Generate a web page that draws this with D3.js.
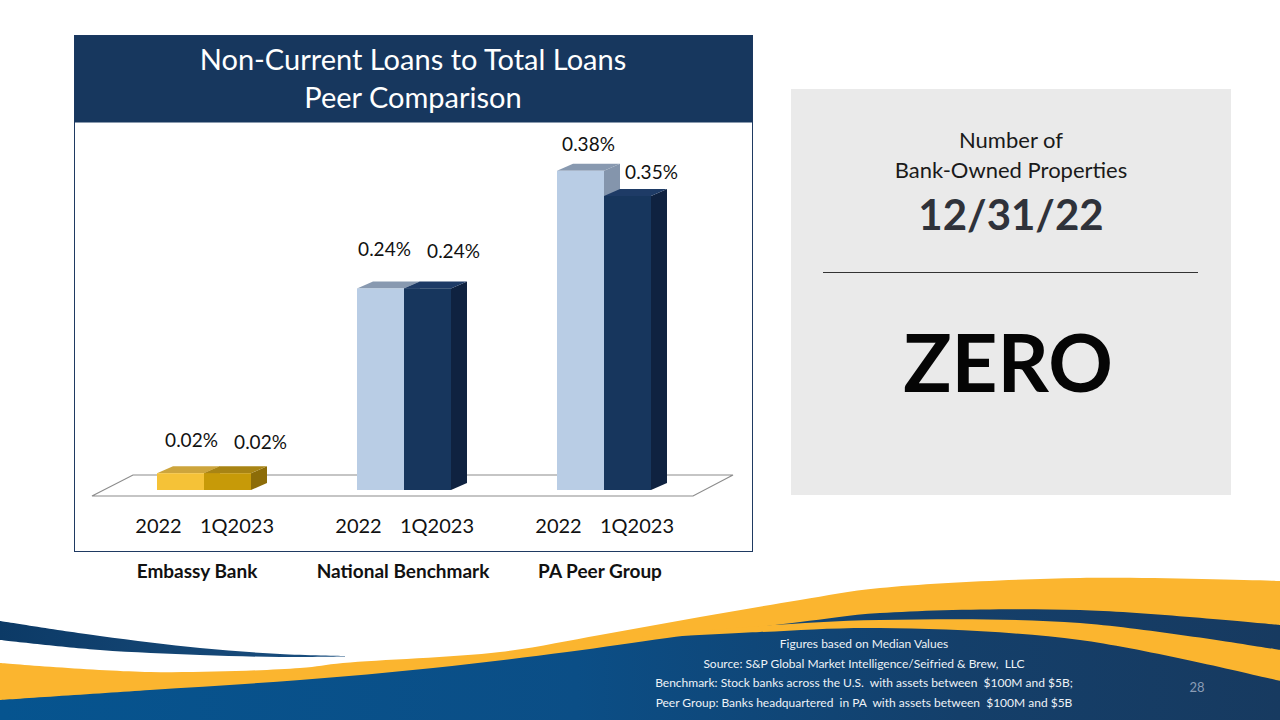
<!DOCTYPE html>
<html>
<head>
<meta charset="utf-8">
<script src="https://cdn.jsdelivr.net/npm/d3@7"></script>
<style>
html,body{margin:0;padding:0;background:#fff;}
svg{display:block;font-family:Lato, "Open Sans", sans-serif;}
</style>
</head>
<body>
<svg id="c" width="1280" height="720"></svg>
<script>
// ---- data ----
const categories = ["Embassy Bank", "National Benchmark", "PA Peer Group"];
const periods = ["2022", "1Q2023"];
const values2022 = [0.02, 0.24, 0.38];
const values1Q2023 = [0.02, 0.24, 0.35];
const titleLines = ["Non-Current Loans to Total Loans", "Peer Comparison"];
const panelLines = ["Number of", "Bank-Owned Properties"];
const panelDate = "12/31/22";
const panelValue = "ZERO";
const footerLines = [
  "Figures based on Median Values",
  "Source: S&P Global Market Intelligence/Seifried & Brew,  LLC",
  "Benchmark: Stock banks across the U.S.  with assets between  $100M and $5B;",
  "Peer Group: Banks headquartered  in PA  with assets between  $100M and $5B"
];
const pageNumber = "28";

const svg = d3.select("#c");

// ---- background waves (decoration) ----
const defs = svg.append("defs");
const g1 = defs.append("linearGradient").attr("id","navyGrad").attr("x1","0").attr("x2","1").attr("y1","0").attr("y2","0");
g1.append("stop").attr("offset","0").attr("stop-color","#06548F");
g1.append("stop").attr("offset","0.45").attr("stop-color","#0B4E86");
g1.append("stop").attr("offset","0.75").attr("stop-color","#143F6A");
g1.append("stop").attr("offset","1").attr("stop-color","#173A60");
const g2 = defs.append("linearGradient").attr("id","swGrad").attr("x1","0").attr("x2","1");
g2.append("stop").attr("offset","0").attr("stop-color","#0C3A66");
g2.append("stop").attr("offset","1").attr("stop-color","#1A4F80");

const curve = d3.line().curve(d3.curveCatmullRom.alpha(0.5));
// top and bottom both given left -> right
function band(top, bottom){
  return curve(top) + "L" + curve(bottom.slice().reverse()).slice(1) + "Z";
}
const yellowTop = [[0,663],[150,672],[300,668],[343,663],[500,652],[600,635],[700,617],[800,600],[880,588],[1080,578],[1280,581]];
svg.append("path").attr("d", band(yellowTop, [[0,720],[1280,720]])).attr("fill","#FBB52F");
const navyTop = [[0,700],[150,690],[300,680],[433,668],[567,652],[667,638],[733,630],[800,622],[880,613],[1080,610],[1280,625]];
svg.append("path").attr("d", band(navyTop, [[0,720],[1280,720]])).attr("fill","url(#navyGrad)");
const y2Top = [[640,637],[760,626],[880,620],[1080,623],[1280,650]];
const y2Bot = [[640,638],[760,632],[880,628],[1080,640],[1280,681]];
svg.append("path").attr("d", band(y2Top, y2Bot)).attr("fill","#FBB52F");
const swTop = [[0,621],[100,636],[200,648],[280,654],[345,656]];
const swBot = [[0,640],[100,650],[200,655],[280,657],[345,656.5]];
svg.append("path").attr("d", band(swTop, swBot)).attr("fill","url(#swGrad)");

// footer text
svg.append("g").selectAll("text").data(footerLines).join("text")
  .attr("x", 864).attr("y", (d,i)=>648 + i*19.7)
  .attr("text-anchor","middle").attr("font-size", 12).attr("fill","#EEF2F7")
  .style("white-space","pre").text(d=>d);
svg.append("text").attr("x",1197).attr("y",692).attr("text-anchor","middle")
  .attr("font-size",13).attr("fill","#8A9DB6").text(pageNumber);

// ---- chart frame ----
const box = {x:74.5, y:35.5, w:678, h:516};
svg.append("rect").attr("x",box.x).attr("y",box.y).attr("width",box.w).attr("height",box.h)
  .attr("fill","#fff").attr("stroke","#1F3A62").attr("stroke-width",1);
svg.append("rect").attr("x",box.x).attr("y",box.y).attr("width",box.w).attr("height",87)
  .attr("fill","#17375E");
svg.append("g").selectAll("text").data(titleLines).join("text")
  .attr("x", 413).attr("y",(d,i)=>70 + i*38).attr("text-anchor","middle")
  .attr("font-size",29).attr("fill","#fff").text(d=>d);

// ---- scales ----
const baseY = 490;
const y = d3.scaleLinear().domain([0, 0.4]).range([baseY, 154]);
const xGroup = d3.scaleBand().domain(categories).range([104, 704]).padding(0);
const xInner = d3.scaleBand().domain(periods).range([-47, 47]).padding(0);
const depth = {dx:16, dy:-7};

// floor
const floorFront = baseY + 6, floorBack = floorFront - 21;
svg.append("path")
  .attr("d", `M92,${floorFront}L693,${floorFront}L733,${floorBack}L133,${floorBack}Z`)
  .attr("fill","#fff").attr("stroke","#8C8C8C").attr("stroke-width",1.2);

const palette = {
  "Embassy Bank": {
    "2022": {front:"#F5C237", top:"#CDA53C", side:"#B38F2A"},
    "1Q2023": {front:"#C79A08", top:"#A88414", side:"#8C6C08"}
  },
  default: {
    "2022": {front:"#B9CDE5", top:"#8899B0", side:"#8495AC"},
    "1Q2023": {front:"#17365D", top:"#1E3B66", side:"#0F2240"}
  }
};

const seriesVals = {"2022": values2022, "1Q2023": values1Q2023};
const bars = [];
categories.forEach((c, ci) => {
  periods.forEach((p, pi) => {
    bars.push({cat:c, ci:ci, period:p, pi:pi, value:seriesVals[p][ci]});
  });
});

const gBars = svg.append("g");
bars.forEach(b => {
  const col = (palette[b.cat] || palette.default)[b.period];
  const cx = xGroup(b.cat) + xGroup.bandwidth()/2;
  const x0 = cx + xInner(b.period), w = xInner.bandwidth();
  const yt = y(b.value);
  const g = gBars.append("g");
  g.append("path").attr("d",
    `M${x0+w},${baseY}L${x0+w+depth.dx},${baseY+depth.dy}L${x0+w+depth.dx},${yt+depth.dy}L${x0+w},${yt}Z`)
    .attr("fill", col.side);
  g.append("path").attr("d",
    `M${x0},${yt}L${x0+depth.dx},${yt+depth.dy}L${x0+w+depth.dx},${yt+depth.dy}L${x0+w},${yt}Z`)
    .attr("fill", col.top);
  g.append("rect").attr("x",x0).attr("y",yt).attr("width",w).attr("height",baseY-yt)
    .attr("fill", col.front);
});

// value labels (label placement offsets, per category / per period)
const fmt = v => d3.format(".2f")(v) + "%";
const labelDx = [[11, 33], [4, 26], [8, 24]];
const labelDy = [[-19, -17], [-25, -23], [-13, -10]];
svg.append("g").selectAll("text").data(bars).join("text")
  .attr("x", d => xGroup(d.cat) + xGroup.bandwidth()/2 + xInner(d.period) + xInner.bandwidth()/2 + labelDx[d.ci][d.pi])
  .attr("y", d => y(d.value) + depth.dy + labelDy[d.ci][d.pi])
  .attr("text-anchor","middle").attr("font-size",19).attr("fill","#111")
  .text(d => fmt(d.value));

// period labels
const periodDx = {"2022": -22, "1Q2023": 9.5};
svg.append("g").selectAll("text").data(bars).join("text")
  .attr("x", d => xGroup(d.cat) + xGroup.bandwidth()/2 + xInner(d.period) + xInner.bandwidth()/2 + periodDx[d.period])
  .attr("y", 533).attr("text-anchor","middle").attr("font-size",20).attr("fill","#111")
  .text(d => d.period);

// category labels (bold, below frame)
const catDx = [-7, -1, -4];
svg.append("g").selectAll("text").data(categories).join("text")
  .attr("x", (d,i) => xGroup(d) + xGroup.bandwidth()/2 + catDx[i])
  .attr("y", 578).attr("text-anchor","middle").attr("font-size",19)
  .attr("font-weight","bold").attr("fill","#111").text(d=>d);

// ---- right panel ----
svg.append("rect").attr("x",791).attr("y",89).attr("width",440).attr("height",406).attr("fill","#EAEAEA");
svg.append("g").selectAll("text").data(panelLines).join("text")
  .attr("x",1011).attr("y",(d,i)=>148 + i*30).attr("text-anchor","middle")
  .attr("font-size",22).attr("fill","#1a1a1a").text(d=>d);
svg.append("text").attr("x",1011).attr("y",230).attr("text-anchor","middle")
  .attr("font-size",42).attr("font-weight","bold").attr("fill","#2F323A").text(panelDate);
svg.append("line").attr("x1",823).attr("x2",1198).attr("y1",272.5).attr("y2",272.5)
  .attr("stroke","#333").attr("stroke-width",1);
svg.append("text").attr("x",1008).attr("y",392).attr("text-anchor","middle")
  .attr("font-size",80).attr("font-weight","bold").attr("fill","#050505").text(panelValue);
</script>
</body>
</html>
